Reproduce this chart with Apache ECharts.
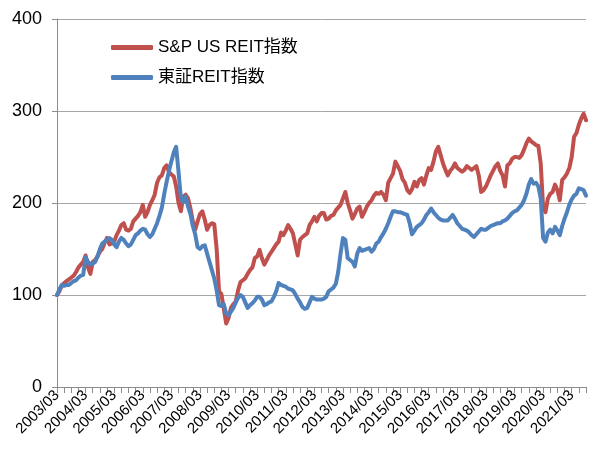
<!DOCTYPE html>
<html>
<head>
<meta charset="utf-8">
<script src="https://cdn.jsdelivr.net/npm/echarts@6/dist/echarts.min.js"></script>
<style>
  html, body { margin: 0; padding: 0; background: #fff; }
  #chart { width: 591px; height: 459px; }
</style>
</head>
<body>
<div id="chart"></div>
<script>
// monthly, starting 2003/03
const startYear = 2003;
const startMonth = 3;

const spUsReit = [
  100,104,110,113,115,117,119,121,125,130,133,136,
  143,130,123,136,138,142,147,150,157,162,155,156,
  158,165,170,176,178,171,170,172,180,183,186,190,
  198,185,190,198,203,209,222,228,230,238,241,234,
  231,229,218,200,191,207,209,205,194,180,171,180,
  188,191,182,171,176,178,177,150,104,101,85,69,
  75,86,90,93,105,114,116,118,123,127,130,140,
  142,149,140,133,138,143,147,151,155,158,168,165,
  170,176,172,167,155,143,160,163,165,167,176,180,
  185,180,186,189,189,182,183,186,187,192,195,198,
  205,212,200,192,183,188,194,196,185,190,196,200,
  203,208,211,210,212,209,203,222,227,232,245,240,
  235,226,222,214,211,215,223,218,225,227,220,230,
  238,236,245,256,261,252,243,236,230,235,238,243,
  238,236,234,236,240,238,236,238,240,230,212,214,
  218,224,230,235,240,243,235,230,218,241,243,248,
  250,250,249,252,258,265,270,267,265,263,262,243,
  195,190,205,210,212,220,214,203,225,228,232,238,
  250,272,276,285,292,297,290
];

const tseReit = [
  100,106,111,110,111,111,113,115,116,119,121,122,
  141,136,133,134,136,142,150,156,158,160,162,160,
  155,152,158,162,160,156,153,155,160,165,167,170,
  172,171,166,163,166,172,178,186,195,210,223,235,
  245,255,261,234,205,201,207,196,188,175,166,152,
  150,153,154,145,136,127,118,105,89,88,90,80,
  78,82,86,92,97,100,98,92,86,89,91,94,
  98,98,95,89,90,92,93,98,104,113,111,110,
  109,107,106,105,101,96,92,87,85,86,92,98,
  96,95,95,95,96,98,104,106,108,112,125,145,
  162,160,140,138,136,131,145,151,148,149,150,151,
  147,150,156,158,163,167,172,178,185,191,191,190,
  190,189,188,187,178,166,170,174,176,178,182,187,
  190,194,190,187,184,182,181,181,181,184,187,183,
  178,175,172,171,170,168,165,163,166,169,172,171,
  171,173,175,176,177,178,178,180,181,183,186,189,
  191,192,195,198,203,210,220,226,221,222,218,205,
  162,158,168,171,167,174,170,165,175,183,190,198,
  204,208,210,216,215,214,208
];

const seriesNames = ['S&P US REIT指数', '東証REIT指数'];
const yTicks = [0, 100, 200, 300, 400];

const months = [];
for (let i = 0; i < spUsReit.length; i++) {
  const m = startMonth - 1 + i;
  const y = startYear + Math.floor(m / 12);
  const mm = (m % 12) + 1;
  months.push(y + '/' + (mm < 10 ? '0' + mm : mm));
}

const fontFam = '"Liberation Sans", "Noto Sans CJK JP", sans-serif';

window.addEventListener('load', function () {
  const chart = echarts.init(document.getElementById('chart'), null, { renderer: 'canvas' });
  chart.setOption({
    animation: false,
    grid: { left: 57, right: 5, top: 19, bottom: 72 },
    legend: {
      data: seriesNames,
      orient: 'vertical',
      left: 106,
      top: 34,
      itemWidth: 42,
      itemHeight: 5,
      itemGap: 13,
      icon: 'roundRect',
      textStyle: { fontSize: 17, color: '#000', fontFamily: fontFam }
    },
    xAxis: {
      type: 'category',
      data: months,
      boundaryGap: false,
      axisLine: { lineStyle: { color: '#8c8c8c', width: 1 } },
      axisTick: {
        show: true,
        length: 6,
        lineStyle: { color: '#8c8c8c' },
        interval: function (idx) { return idx % 3 === 0; }
      },
      axisLabel: {
        interval: function (idx) { return idx % 12 === 0; },
        rotate: 45,
        fontSize: 15,
        color: '#000',
        margin: 6,
        fontFamily: fontFam
      },
      splitLine: { show: false }
    },
    yAxis: {
      type: 'value',
      min: yTicks[0],
      max: yTicks[yTicks.length - 1],
      interval: 100,
      axisLine: { show: true, lineStyle: { color: '#8c8c8c', width: 1 } },
      axisTick: { show: true, length: 5, lineStyle: { color: '#8c8c8c' } },
      axisLabel: { fontSize: 18, color: '#000', margin: 15, fontFamily: fontFam },
      splitLine: { lineStyle: { color: '#a6a6a6', width: 1 } }
    },
    series: [
      {
        name: seriesNames[0],
        type: 'line',
        data: spUsReit,
        showSymbol: false,
        color: '#C0504D',
        lineStyle: { width: 4, color: '#C0504D', cap: 'round', join: 'round' }
      },
      {
        name: seriesNames[1],
        type: 'line',
        data: tseReit,
        showSymbol: false,
        color: '#4F81BD',
        lineStyle: { width: 4, color: '#4F81BD', cap: 'round', join: 'round' }
      }
    ]
  });
});
</script>
</body>
</html>
